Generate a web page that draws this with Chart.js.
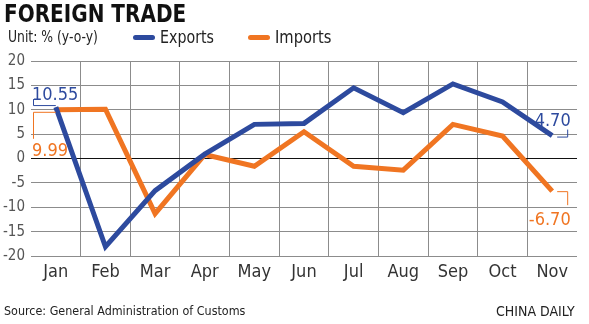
<!DOCTYPE html>
<html>
<head>
<meta charset="utf-8">
<script src="https://cdn.jsdelivr.net/npm/chart.js@4.4.1/dist/chart.umd.min.js"></script>
<style>
  html, body { margin: 0; padding: 0; background: #fff; }
  #wrap { position: relative; width: 589px; height: 324px; overflow: hidden; font-family: "DejaVu Sans Condensed", "Liberation Sans Narrow", sans-serif; }
  canvas { position: absolute; left: 0; top: 0; }
  .t { position: absolute; white-space: nowrap; line-height: 1; transform-origin: 0 0; }
  #title { left: 4px; top: 1px; font-size: 25px; font-weight: 700; color: #111; transform: scaleX(0.89); }
  #unit { left: 8px; top: 29px; font-size: 16px; color: #222; transform: scaleX(0.86); }
  .sw { position: absolute; height: 5px; width: 22px; border-radius: 3px; top: 35px; }
  #lgE { left: 160px; top: 29px; font-size: 17px; color: #222; transform: scaleX(0.93); }
  #lgI { left: 275px; top: 29px; font-size: 17px; color: #222; transform: scaleX(0.96); }
  #src { left: 4px; top: 304px; font-size: 13px; color: #222; transform: scaleX(0.955); }
  #cd { left: 496px; top: 304px; font-size: 14px; color: #222; }
</style>
</head>
<body>
<div id="wrap">
  <canvas id="c" width="589" height="324"></canvas>
  <div class="t" id="title">FOREIGN TRADE</div>
  <div class="t" id="unit">Unit: % (y-o-y)</div>
  <div class="sw" style="left:133px;background:#2d4a9e"></div>
  <div class="t" id="lgE">Exports</div>
  <div class="sw" style="left:248px;background:#f07522"></div>
  <div class="t" id="lgI">Imports</div>
  <div class="t" id="src">Source: General Administration of Customs</div>
  <div class="t" id="cd">CHINA DAILY</div>
</div>
<script>
const months = ["Jan","Feb","Mar","Apr","May","Jun","Jul","Aug","Sep","Oct","Nov"];
const exportsPct = [10.55, -18.1, -6.6, 0.9, 7.0, 7.2, 14.5, 9.4, 15.3, 11.6, 4.70];
const importsPct = [9.99, 10.1, -11.3, 0.8, -1.6, 5.5, -1.6, -2.4, 7.0, 4.6, -6.70];
const yTicks = [20, 15, 10, 5, 0, -5, -10, -15, -20];

const BLUE = "#2d4a9e", ORANGE = "#f07522";
const FONT = "'DejaVu Sans Condensed', 'Liberation Sans Narrow', sans-serif";

const calloutPlugin = {
  id: "callouts",
  afterDatasetsDraw(chart) {
    const { ctx } = chart;
    const x = chart.scales.x, y = chart.scales.y;
    const first = 0, last = months.length - 1;
    ctx.save();
    ctx.lineWidth = 1;
    ctx.font = "18px " + FONT;
    ctx.textBaseline = "alphabetic";
    // Jan exports (above)
    let px = x.getPixelForValue(first), py = y.getPixelForValue(exportsPct[first]);
    let lx = chart.chartArea.left + 2.5;
    ctx.strokeStyle = BLUE; ctx.fillStyle = BLUE;
    ctx.beginPath(); ctx.moveTo(lx, py - 8); ctx.lineTo(lx, py - 1.5); ctx.lineTo(px, py - 1.5); ctx.stroke();
    ctx.textAlign = "left";
    ctx.fillText(exportsPct[first].toFixed(2), lx - 1.5, py - 7);
    // Jan imports (below)
    py = y.getPixelForValue(importsPct[first]);
    ctx.strokeStyle = ORANGE; ctx.fillStyle = ORANGE;
    ctx.beginPath(); ctx.moveTo(px, py + 2.5); ctx.lineTo(lx, py + 2.5); ctx.lineTo(lx, py + 29); ctx.stroke();
    ctx.fillText(importsPct[first].toFixed(2), lx - 1.5, py + 46);
    // Nov exports
    px = x.getPixelForValue(last); py = y.getPixelForValue(exportsPct[last]);
    let rx = px + 15.5;
    ctx.strokeStyle = BLUE; ctx.fillStyle = BLUE;
    ctx.beginPath(); ctx.moveTo(px + 5, py + 1.5); ctx.lineTo(rx, py + 1.5); ctx.lineTo(rx, py - 6); ctx.stroke();
    ctx.textAlign = "right";
    ctx.fillText(exportsPct[last].toFixed(2), rx + 3, py - 10);
    // Nov imports
    py = y.getPixelForValue(importsPct[last]);
    ctx.strokeStyle = ORANGE; ctx.fillStyle = ORANGE;
    ctx.beginPath(); ctx.moveTo(px + 5, py + 0.5); ctx.lineTo(rx, py + 0.5); ctx.lineTo(rx, py + 14); ctx.stroke();
    ctx.fillText(importsPct[last].toFixed(2), rx + 3, py + 34);
    ctx.restore();
  }
};

new Chart(document.getElementById("c"), {
  type: "line",
  data: {
    labels: months,
    datasets: [
      { label: "Imports", data: importsPct, borderColor: ORANGE, borderWidth: 5, pointRadius: 0, tension: 0, fill: false, order: 2, borderJoinStyle: "miter" },
      { label: "Exports", data: exportsPct, borderColor: BLUE, borderWidth: 5, pointRadius: 0, tension: 0, fill: false, order: 1, borderJoinStyle: "miter" }
    ]
  },
  options: {
    responsive: false,
    animation: false,
    events: [],
    layout: { padding: { top: 61, right: 12, bottom: 38, left: 0 } },
    plugins: { legend: { display: false }, title: { display: false }, tooltip: { enabled: false } },
    scales: {
      x: {
        offset: true,
        grid: {
          offset: true,
          drawTicks: false,
          color: (c) => (c.type !== "tick" || c.index === 0) ? "rgba(0,0,0,0)" : "#8c8c8c",
          lineWidth: 1
        },
        border: { display: false },
        ticks: { color: "#333", font: { family: FONT, size: 18 }, padding: 6, maxRotation: 0, autoSkip: false },
        afterFit: (s) => { s.height = 30; }
      },
      y: {
        min: -20, max: 20,
        afterBuildTicks: (s) => { s.ticks = yTicks.map(v => ({ value: v })); },
        grid: {
          drawTicks: false,
          color: (c) => c.tick && c.tick.value === 0 ? "#111" : "#8c8c8c",
          lineWidth: 1
        },
        border: { display: false },
        ticks: { color: "#555", font: { family: FONT, size: 15 }, padding: 6 },
        afterFit: (s) => { s.width = 31; }
      }
    }
  },
  plugins: [calloutPlugin]
});
</script>
</body>
</html>
